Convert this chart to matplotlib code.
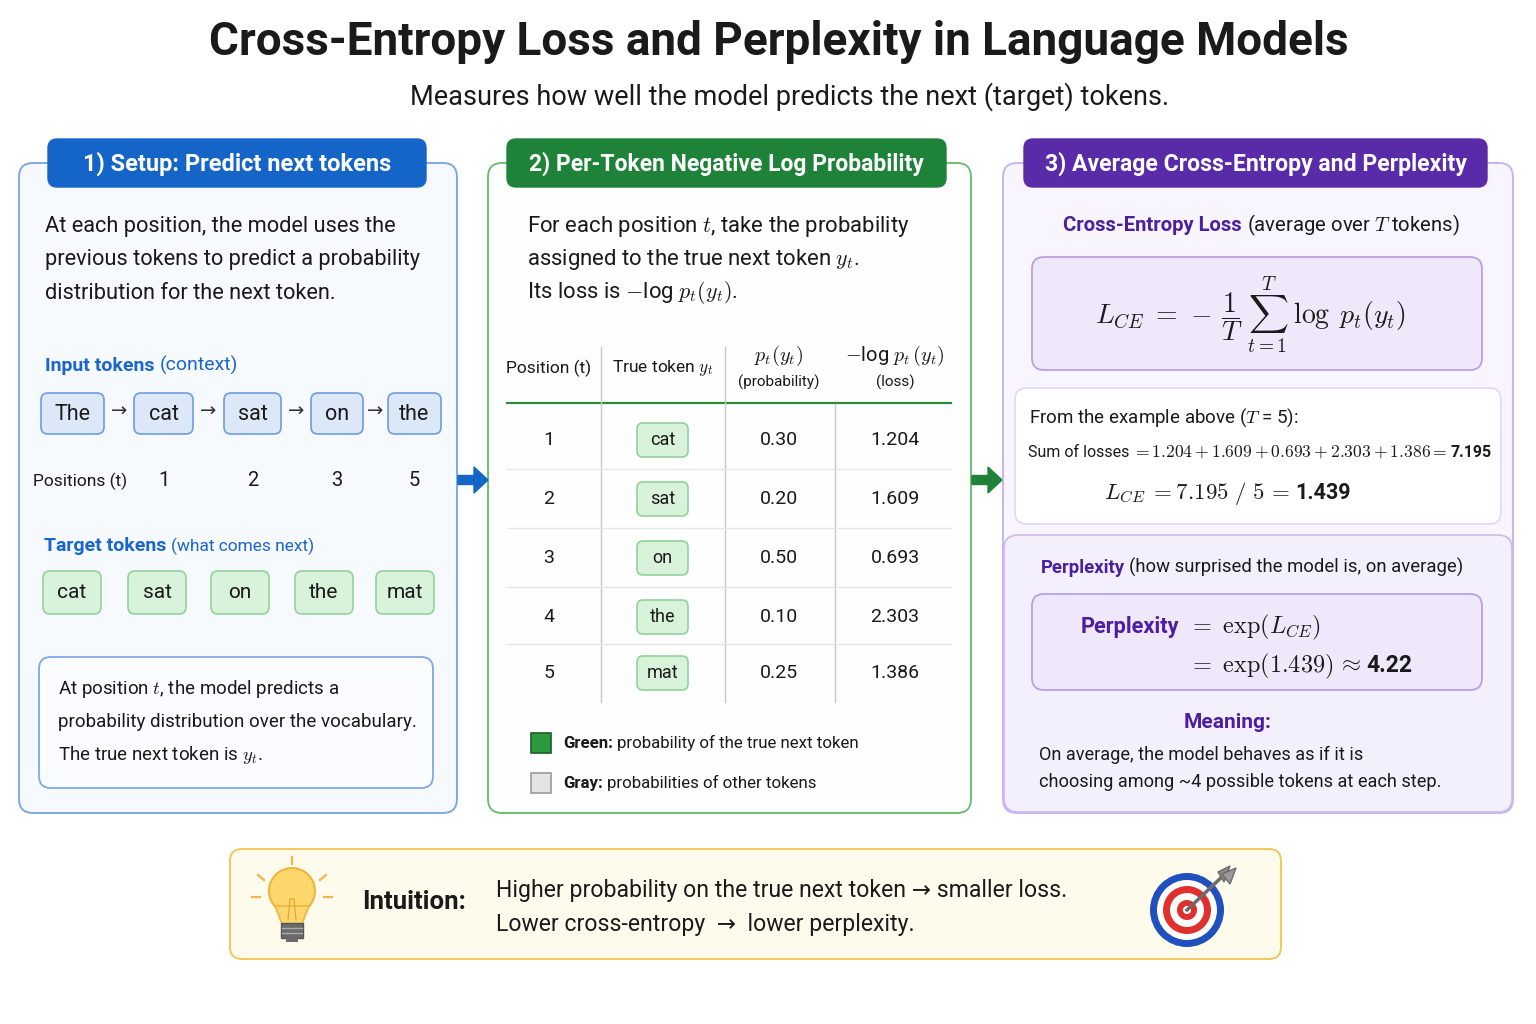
import matplotlib
matplotlib.use("Agg")
import matplotlib.pyplot as plt
from matplotlib.patches import FancyBboxPatch, Circle, Polygon, Rectangle, FancyArrow

plt.rcParams['font.family'] = ['Roboto', 'DejaVu Sans']
plt.rcParams['mathtext.fontset'] = 'cm'

# ---- data ----
input_tokens = ['The', 'cat', 'sat', 'on', 'the']
position_labels = ['1', '2', '3', '5']          # as printed in the chart
target_tokens = ['cat', 'sat', 'on', 'the', 'mat']
positions = [1, 2, 3, 4, 5]
probs = [0.30, 0.20, 0.50, 0.10, 0.25]
losses = [1.204, 1.609, 0.693, 2.303, 1.386]
loss_sum = 7.195
ce_loss = 1.439
perplexity = 4.22
T = 5

# ---- colours ----
BLUE = '#1565c8'
BLUE_TXT = '#1a66cc'
GREEN = '#1e8339'
PURPLE = '#5a2ba8'
PURPLE_TXT = '#4b1fa0'
DARK = '#1a1a1a'

fig = plt.figure(figsize=(15.36, 10.24), dpi=100)
ax = fig.add_axes([0, 0, 1, 1])
ax.set_xlim(0, 1536)
ax.set_ylim(1024, 0)
ax.axis('off')
R = fig.canvas.get_renderer()


def box(x0, y0, x1, y1, fc, ec, lw=1.3, r=10, z=1):
    p = FancyBboxPatch((x0, y0), x1 - x0, y1 - y0,
                       boxstyle=f"round,pad=0,rounding_size={r}",
                       fc=fc, ec=ec, lw=lw, zorder=z)
    ax.add_patch(p)
    return p


def runs(x, y, parts, ha='left', size=13, color=DARK, gap=None):
    # draw a line made of differently styled pieces
    if gap is None:
        gap = size * 100 / 72 * 0.26
    objs = []
    for s, kw in parts:
        kw2 = dict(fontsize=size, color=color)
        kw2.update(kw)
        objs.append(ax.text(x, y, s, va='baseline', ha='left', zorder=5, **kw2))
    widths = [t.get_window_extent(renderer=R).width for t in objs]
    total = sum(widths) + gap * (len(objs) - 1)
    cx = x - total / 2 if ha == 'center' else x
    for t, w in zip(objs, widths):
        t.set_x(cx)
        cx += w + gap
    return objs


# ---- title ----
ax.text(779, 42, 'Cross-Entropy Loss and Perplexity in Language Models',
        ha='center', va='center', fontsize=33, fontweight='bold', color=DARK)
ax.text(790, 97, 'Measures how well the model predicts the next (target) tokens.',
        ha='center', va='center', fontsize=19.5, color=DARK)

# ---- panels ----
box(19, 163, 457, 813, '#f6f9fe', '#7ea9e3', lw=1.4, r=14)
box(488, 163, 971, 813, '#fdfefd', '#6fbf73', lw=1.4, r=14)
box(1003, 163, 1513, 813, '#f8f5fe', '#c9b4ec', lw=1.4, r=14)

headers = [((48, 426), BLUE, '1) Setup: Predict next tokens', 17),
           ((507, 946), GREEN, '2) Per-Token Negative Log Probability', 16.5),
           ((1024, 1487), PURPLE, '3) Average Cross-Entropy and Perplexity', 16.6)]
for (hx0, hx1), col, lab, fs in headers:
    box(hx0, 139, hx1, 187, col, col, lw=1, r=9, z=3)
    ax.text((hx0 + hx1) / 2, 164, lab, ha='center', va='center', color='white',
            fontsize=fs, fontweight='bold', zorder=4)

# arrows between panels
ax.add_patch(FancyArrow(458, 480, 16, 0, width=9, head_width=26, head_length=14,
                        length_includes_head=False, color=BLUE, zorder=4))
ax.add_patch(FancyArrow(972, 480, 16, 0, width=9, head_width=26, head_length=14,
                        length_includes_head=False, color=GREEN, zorder=4))

# ---- panel 1 ----
p1_lines = ['At each position, the model uses the',
            'previous tokens to predict a probability',
            'distribution for the next token.']
for i, s in enumerate(p1_lines):
    ax.text(45, 232 + i * 33.5, s, fontsize=15.7, color=DARK, va='baseline')

runs(45, 371, [('Input tokens', dict(fontweight='bold')), ('(context)', {})],
     size=14, color=BLUE_TXT)

in_x = [(41, 104), (134, 193), (224, 281), (311, 363), (388, 441)]
for (bx0, bx1), tok in zip(in_x, input_tokens):
    box(bx0, 393, bx1, 434, '#dce8f8', '#6f9be0', lw=1.2, r=7, z=2)
    ax.text((bx0 + bx1) / 2, 414, tok, ha='center', va='center', fontsize=15.5, color=DARK, zorder=3)
for (a0, a1), (b0, b1) in zip(in_x[:-1], in_x[1:]):
    ax.text((a1 + b0) / 2, 412, '\u2192', ha='center', va='center', fontsize=14, color='#333333')

ax.text(33, 481, 'Positions (t)', fontsize=12.5, color=DARK, va='center')
for (bx0, bx1), lab in zip(in_x[1:], position_labels):
    ax.text((bx0 + bx1) / 2, 481, lab, ha='center', va='center', fontsize=14.5, color=DARK)

runs(44, 551, [('Target tokens', dict(fontweight='bold', fontsize=14)),
               ('(what comes next)', dict(fontsize=12.5))], size=14, color=BLUE_TXT)

tg_x = [(43, 101), (128, 186), (211, 269), (295, 353), (376, 434)]
for (bx0, bx1), tok in zip(tg_x, target_tokens):
    box(bx0, 571, bx1, 614, '#d9f2da', '#93d29b', lw=1.2, r=7, z=2)
    ax.text((bx0 + bx1) / 2, 593, tok, ha='center', va='center', fontsize=15, color=DARK, zorder=3)

box(39, 657, 433, 788, '#fbfcff', '#7ea9e3', lw=1.3, r=12, z=2)
note_lines = ['At position $t$, the model predicts a',
              'probability distribution over the vocabulary.',
              'The true next token is $y_t$.']
for i, s in enumerate(note_lines):
    ax.text(58, 694 + i * 33, s, fontsize=13.5, color=DARK, va='baseline', zorder=3)

# ---- panel 2 ----
p2_lines = ['For each position $t$, take the probability',
            'assigned to the true next token $y_t$.',
            'Its loss is $-$log $p_t(y_t)$.']
for i, s in enumerate(p2_lines):
    ax.text(527, 232 + i * 33, s, fontsize=15.9, color=DARK, va='baseline')

col_x = [549, 663, 779, 895]
ax.text(col_x[0], 368, 'Position (t)', ha='center', va='center', fontsize=12.5, color=DARK)
ax.text(col_x[1], 368, 'True token $y_t$', ha='center', va='center', fontsize=12.5, color=DARK)
ax.text(col_x[2], 356, '$p_t(y_t)$', ha='center', va='center', fontsize=14.5, color=DARK)
ax.text(col_x[2], 382, '(probability)', ha='center', va='center', fontsize=11, color=DARK)
ax.text(col_x[3], 356, '$-$log $p_t\\,(y_t)$', ha='center', va='center', fontsize=14.5, color=DARK)
ax.text(col_x[3], 382, '(loss)', ha='center', va='center', fontsize=11, color=DARK)

ax.plot([507, 951], [403, 403], color='#2e8b3e', lw=1.6)
ax.plot([601, 601], [347, 702], color='#c8c8c8', lw=1)
ax.plot([725, 725], [347, 702], color='#c8c8c8', lw=1)
ax.plot([835, 835], [404, 702], color='#c8c8c8', lw=1)

row_y = [440, 499, 558, 617, 673]
for i, (pos, tok, p, l) in enumerate(zip(positions, target_tokens, probs, losses)):
    y = row_y[i]
    if i < len(row_y) - 1:
        ax.plot([507, 951], [(row_y[i] + row_y[i + 1]) / 2 - 1] * 2, color='#e6e6e6', lw=1)
    ax.text(col_x[0], y, str(pos), ha='center', va='center', fontsize=14, color=DARK)
    box(637, y - 17, 688, y + 17, '#d9f2da', '#93d29b', lw=1.2, r=6, z=2)
    ax.text(662.5, y, tok, ha='center', va='center', fontsize=13, color=DARK, zorder=3)
    ax.text(col_x[2], y, f'{p:.2f}', ha='center', va='center', fontsize=14, color=DARK)
    ax.text(col_x[3], y, f'{l:.3f}', ha='center', va='center', fontsize=14, color=DARK)

ax.add_patch(Rectangle((531, 733), 20, 20, fc='#2e9a3f', ec='#1d5e29', lw=1.2))
ax.add_patch(Rectangle((531, 773), 20, 20, fc='#e4e4e4', ec='#9a9a9a', lw=1.2))
runs(563, 748, [('Green:', dict(fontweight='bold')), ('probability of the true next token', {})], size=12.2)
runs(563, 788, [('Gray:', dict(fontweight='bold')), ('probabilities of other tokens', {})], size=12.2)

# ---- panel 3 ----
runs(1261, 231, [('Cross-Entropy Loss', dict(fontweight='bold', color=PURPLE_TXT)),
                 ('(average over $T$ tokens)', {})], ha='center', size=14.6)

box(1032, 257, 1482, 370, '#efe8fb', '#b9a0e6', lw=1.3, r=12, z=2)
ax.text(1250, 315, r'$L_{CE}\;=\,-\,\dfrac{1}{T}\;\sum_{t=1}^{T}\;\log\;p_t(y_t)$',
        ha='center', va='center', fontsize=20, color=DARK, zorder=3)

box(1015, 388, 1501, 524, '#ffffff', '#e2d6f5', lw=1.2, r=12, z=2)
ax.text(1029, 423, 'From the example above ($T$ = 5):', fontsize=13.5, color=DARK,
        va='baseline', zorder=3)
sum_expr = '$=' + '+'.join(f'{l:.3f}' for l in losses) + '=$'
runs(1028, 457, [('Sum of losses', {}), (sum_expr, dict(fontsize=12.6)),
                 (f'{loss_sum:.3f}', dict(fontweight='bold'))], size=11.5, gap=3)
runs(1104, 499, [(r'$L_{CE}\;=' + f'{loss_sum:.3f}' + r'\ /\ ' + f'{T}' + r'\,=$', dict(fontsize=16.5)),
                 (f'{ce_loss:.3f}', dict(fontweight='bold'))], size=15.5, gap=5)

box(1004, 535, 1512, 812, '#f4effc', '#cdb8ef', lw=1.2, r=14, z=1)
runs(1252, 573, [('Perplexity', dict(fontweight='bold', color=PURPLE_TXT)),
                 ('(how surprised the model is, on average)', {})], ha='center', size=13.3)

box(1032, 594, 1482, 690, '#efe8fb', '#b9a0e6', lw=1.3, r=12, z=2)
ax.text(1081, 633, 'Perplexity', fontsize=15.7, fontweight='bold', color=PURPLE_TXT,
        va='baseline', zorder=3)
ax.text(1188, 633, r'$=\ \exp(L_{CE})$', fontsize=17.5, color=DARK, va='baseline', zorder=3)
runs(1188, 672, [(r'$=\ \exp(' + f'{ce_loss:.3f}' + r')\,\approx$', dict(fontsize=17.5)),
                 (f'{perplexity:.2f}', dict(fontweight='bold'))], size=16.5, gap=5)

ax.text(1228, 723, 'Meaning:', ha='center', va='center', fontsize=15, fontweight='bold',
        color=PURPLE_TXT)
ax.text(1039, 760, 'On average, the model behaves as if it is', fontsize=13.1, color=DARK,
        va='baseline')
ax.text(1039, 787, 'choosing among ~4 possible tokens at each step.', fontsize=13.1,
        color=DARK, va='baseline')

# ---- bottom intuition box ----
box(230, 849, 1281, 959, '#fffbec', '#f3c75a', lw=1.4, r=12, z=1)

# light bulb
ax.add_patch(Circle((292, 891), 23, fc='#fdd66c', ec='#f0b440', lw=1.5, zorder=3))
ax.add_patch(Polygon([(275, 906), (309, 906), (302, 924), (282, 924)], closed=True,
                     fc='#fdd66c', ec='#f0b440', lw=1.2, zorder=3))
ax.add_patch(Rectangle((281, 923), 22, 15, fc='#6b6b6b', ec='#555555', lw=1, zorder=4))
ax.plot([282, 302], [928, 928], color='#aaaaaa', lw=1, zorder=5)
ax.plot([282, 302], [933, 933], color='#aaaaaa', lw=1, zorder=5)
ax.add_patch(Rectangle((286, 938), 12, 4, fc='#6b6b6b', ec='none', zorder=4))
ax.plot([288, 290, 294, 296], [920, 899, 899, 920], color='#e3a63a', lw=0.9, zorder=4)
for (x0, y0, x1, y1) in [(292, 857, 292, 864), (258, 875, 264, 880), (326, 875, 320, 880),
                         (252, 897, 260, 897), (324, 897, 332, 897)]:
    ax.plot([x0, x1], [y0, y1], color='#f4b24a', lw=1.6, zorder=3)

ax.text(362, 902, 'Intuition:', fontsize=18.5, fontweight='bold', color=DARK, va='center')
ax.text(496, 890, 'Higher probability on the true next token \u2192 smaller loss.',
        fontsize=16.6, color=DARK, va='center')
ax.text(496, 924, 'Lower cross-entropy  \u2192  lower perplexity.',
        fontsize=16.6, color=DARK, va='center')

# target with dart
tcx, tcy = 1187, 910
for rad, col in [(37, '#1f50bd'), (30, 'white'), (24, '#e0302e'), (17, 'white'),
                 (10, '#e0302e'), (4, 'white')]:
    ax.add_patch(Circle((tcx, tcy), rad, fc=col, ec='none', zorder=3))
ax.plot([tcx, 1226], [tcy, 873], color='#6b6b6b', lw=2.5, zorder=4)
ax.add_patch(Polygon([(1218, 872), (1230, 866), (1224, 882)], closed=True, fc='#8a8a8a',
                     ec='#6b6b6b', zorder=4))
ax.add_patch(Polygon([(1222, 874), (1236, 868), (1230, 884)], closed=True, fc='#9a9a9a',
                     ec='#6b6b6b', zorder=4))

fig.savefig('out.png', dpi=100, facecolor='white')
